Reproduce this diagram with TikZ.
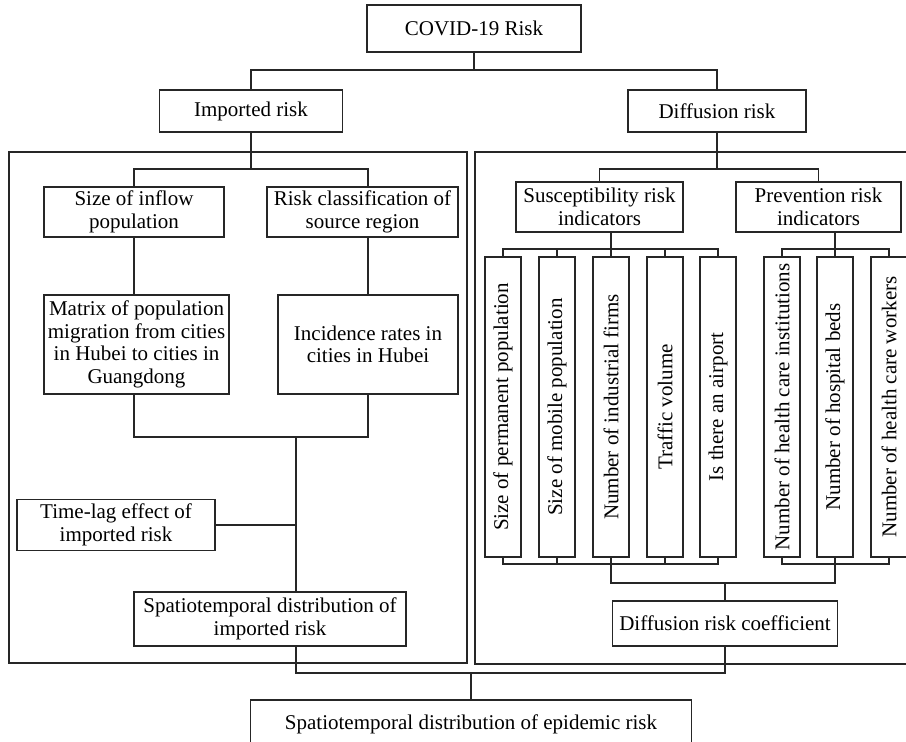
\documentclass[tikz,border=0pt]{standalone}
\usepackage{fontspec}
\setmainfont{Liberation Serif}
\begin{document}
\begin{tikzpicture}[x=1pt,y=-1pt,
  line/.style={draw=black!85,line width=1.3pt},
  box/.style={line,rectangle,align=center,inner sep=1pt,
    font=\fontsize{21}{22.5}\selectfont},
  vbox/.style={box,rotate=90,minimum width=300,minimum height=36}]
\useasboundingbox (0,0) rectangle (906,742);
% panels
\draw[line] (9,152) rectangle (467,663);
\draw[line] (906,152) -| (475,664) -- (906,664);
% top
\node[box,minimum width=214,minimum height=47] (covid) at (474,28.5) {COVID-19 Risk};
\node[box,minimum width=183,minimum height=42] (imp) at (251,111) {Imported risk};
\node[box,minimum width=178,minimum height=42] (dif) at (717,111) {Diffusion risk};
% left panel
\node[box,minimum width=180,minimum height=50] (inflow) at (134,212) {Size of inflow\\population};
\node[box,minimum width=191,minimum height=50] (riskcls) at (362.5,212) {Risk classification of\\source region};
\node[box,minimum width=185,minimum height=99] (matrix) at (136.5,344.5) {Matrix of population\\migration from cities\\in Hubei to cities in\\Guangdong};
\node[box,minimum width=180,minimum height=99] (incid) at (368,344.5) {Incidence rates in\\cities in Hubei};
\node[box,minimum width=198,minimum height=51] (timelag) at (116,525) {Time-lag effect of\\imported risk};
\node[box,minimum width=272,minimum height=54] (spimp) at (270,619) {Spatiotemporal distribution of\\imported risk};
% right panel
\node[box,minimum width=167,minimum height=50] (susc) at (599.5,207) {Susceptibility risk\\indicators};
\node[box,minimum width=165,minimum height=50] (prev) at (818.5,207) {Prevention risk\\indicators};
\node[vbox] (v1) at (503,407) {Size of permanent population};
\node[vbox] (v2) at (557,407) {Size of mobile population};
\node[vbox] (v3) at (611,407) {Number of industrial firms};
\node[vbox] (v4) at (665,407) {Traffic volume};
\node[vbox] (v5) at (718,407) {Is there an airport};
\node[vbox] (v6) at (782,407) {Number of health care institutions};
\node[vbox] (v7) at (835,407) {Number of hospital beds};
\node[vbox] (v8) at (889,407) {Number of health care workers};
\node[box,minimum width=225,minimum height=45] (difcoef) at (725,623.5) {Diffusion risk coefficient};
% bottom
\node[box,minimum width=441,minimum height=48] (final) at (471,724) {Spatiotemporal distribution of epidemic risk};
% junctions
\coordinate (j1) at (474,70);
\coordinate (j2) at (251,169);
\coordinate (j3) at (296,437);
\coordinate (j4) at (296,673);
\coordinate (j5) at (471,673);
\coordinate (k1) at (717,169);
\coordinate (k2) at (611,249);
\coordinate (k3) at (835,249);
\coordinate (k4) at (611,564);
\coordinate (k5) at (835,564);
\coordinate (k6) at (725,583);
% connectors top
\draw[line] (covid.south) -- (j1);
\draw[line] (imp.north) |- (j1) -| (dif.north);
% left panel connectors
\draw[line] (imp.south) -- (j2);
\draw[line] (inflow.north) |- (j2) -| (incid.north |- riskcls.north);
\draw[line] (inflow.south) -- (inflow.south |- matrix.north);
\draw[line] (incid.north |- riskcls.south) -- (incid.north);
\draw[line] (inflow.south |- matrix.south) |- (j3) -| (incid.south);
\draw[line] (j3) -- (j3 |- spimp.north);
\draw[line] (timelag.east) -- (j3 |- timelag.east);
\draw[line] (j3 |- spimp.south) -- (j4) -- (j5) -| (difcoef.south);
\draw[line] (j5) -- (final.north);
% right panel connectors
\draw[line] (dif.south) -- (k1);
\draw[line] (susc.north) |- (k1) -| (prev.north);
\draw[line] (k2 |- susc.south) -- (k2);
\draw[line] (k3 |- prev.south) -- (k3);
\draw[line] (v1.east) |- (k2) -| (v5.east);
\draw[line] (v2.east) -- (v2.east |- k2);
\draw[line] (v3.east) -- (k2);
\draw[line] (v4.east) -- (v4.east |- k2);
\draw[line] (v6.east) |- (k3) -| (v8.east);
\draw[line] (v7.east) -- (k3);
\draw[line] (v1.west) |- (k4) -| (v5.west);
\draw[line] (v2.west) -- (v2.west |- k4);
\draw[line] (v3.west) -- (k4);
\draw[line] (v4.west) -- (v4.west |- k4);
\draw[line] (v6.west) |- (k5) -| (v8.west);
\draw[line] (v7.west) -- (k5);
\draw[line] (k4) |- (k6) -| (k5);
\draw[line] (k6) -- (difcoef.north);
\end{tikzpicture}
\end{document}
